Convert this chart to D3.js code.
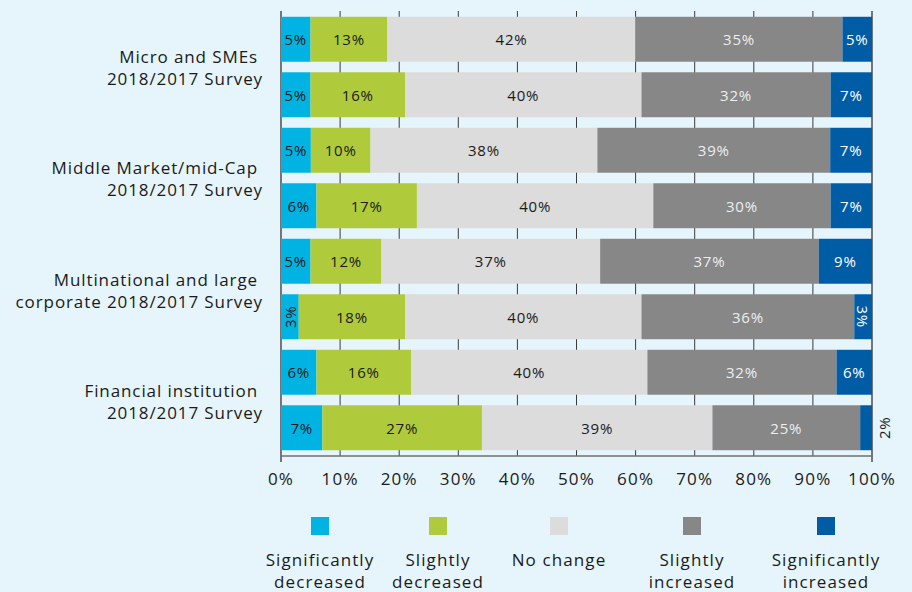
<!DOCTYPE html>
<html>
<head>
<meta charset="utf-8">
<script src="https://cdn.jsdelivr.net/npm/d3@7"></script>
<style>
  body { margin: 0; background: #e6f5fc; }
  svg { display: block; font-family: "Open Sans", sans-serif; }
</style>
</head>
<body>
<script>
const width = 912;
const height = 592;

const series = ["Significantly decreased", "Slightly decreased", "No change", "Slightly increased", "Significantly increased"];
const legendLines = [["Significantly", "decreased"], ["Slightly", "decreased"], ["No change"], ["Slightly", "increased"], ["Significantly", "increased"]];
const colors = ["#00b3e3", "#afca3b", "#dcdcdc", "#878787", "#005ca5"];
const labelColors = ["#1a1a1a", "#1a1a1a", "#1a1a1a", "#eeeeee", "#ffffff"];

const groups = [
    ["Micro and SMEs", "2018/2017 Survey"],
    ["Middle Market/mid-Cap", "2018/2017 Survey"],
    ["Multinational and large", "corporate 2018/2017 Survey"],
    ["Financial institution", "2018/2017 Survey"]
];
const rows = ["micro18", "micro17", "mid18", "mid17", "multi18", "multi17", "fi18", "fi17"];
const sigDecreased   = [5, 5, 5, 6, 5, 3, 6, 7];
const slDecreased    = [13, 16, 10, 17, 12, 18, 16, 27];
const noChange       = [42, 40, 38, 40, 37, 40, 40, 39];
const slIncreased    = [35, 32, 39, 30, 37, 36, 32, 25];
const sigIncreased   = [5, 7, 7, 7, 9, 3, 6, 2];
const xTicks = [0, 10, 20, 30, 40, 50, 60, 70, 80, 90, 100];

const table = rows.map((r, i) => ({
    row: r,
    [series[0]]: sigDecreased[i],
    [series[1]]: slDecreased[i],
    [series[2]]: noChange[i],
    [series[3]]: slIncreased[i],
    [series[4]]: sigIncreased[i]
}));

const x0 = 281, x1 = 872;
const x = d3.scaleLinear().domain([0, 100]).range([x0, x1]);
const y = d3.scaleBand().domain(rows).range([11, 456]).paddingInner(0.19).paddingOuter(0.104);
const color = d3.scaleOrdinal(series, colors);

const stacked = d3.stack().keys(series).offset(d3.stackOffsetExpand)(table);

const svg = d3.select("body").append("svg")
              .attr("width", width)
              .attr("height", height);

// gridlines behind bars
svg.append("g")
   .selectAll("line")
   .data(xTicks)
   .join("line")
   .attr("x1", d => x(d)).attr("x2", d => x(d))
   .attr("y1", 11)
   .attr("y2", d => (d === 0 || d === 100) ? 462 : 456)
   .attr("stroke", d => (d === 0 || d === 100) ? "#222" : "#3a3a3a")
   .attr("stroke-width", d => (d === 0 || d === 100) ? 1.2 : 1);

// bottom axis line
svg.append("line")
   .attr("x1", x0).attr("x2", x1)
   .attr("y1", 456).attr("y2", 456)
   .attr("stroke", "#6f6f6f").attr("stroke-width", 1.5);

const layers = svg.append("g")
    .selectAll("g")
    .data(stacked)
    .join("g")
    .attr("fill", d => color(d.key));

layers.selectAll("rect")
    .data(d => d)
    .join("rect")
    .attr("x", d => x(d[0] * 100))
    .attr("width", d => x(d[1] * 100) - x(d[0] * 100))
    .attr("y", d => y(d.data.row))
    .attr("height", y.bandwidth());

// segment labels
stacked.forEach((layer, si) => {
    const g = svg.append("g")
        .attr("font-size", 15)
        .attr("letter-spacing", 0.8)
        .attr("fill", labelColors[si])
        .attr("text-anchor", "middle");
    layer.forEach(d => {
        const v = d.data[layer.key];
        const cx = (x(d[0] * 100) + x(d[1] * 100)) / 2;
        const cy = y(d.data.row) + y.bandwidth() / 2;
        const t = g.append("text").text(v + "%").attr("dominant-baseline", "central");
        if (v <= 2) {
            t.attr("fill", "#1a1a1a")
             .attr("transform", `translate(${x1 + 12},${cy}) rotate(-90)`);
        } else if (v <= 3) {
            t.attr("transform", `translate(${cx},${cy}) rotate(${si === 0 ? -90 : 90})`);
        } else {
            t.attr("x", cx).attr("y", cy);
        }
    });
});

// x tick labels
svg.append("g")
   .attr("font-size", 17)
   .attr("letter-spacing", 1.2)
   .attr("fill", "#1a1a1a")
   .attr("text-anchor", "middle")
   .selectAll("text")
   .data(xTicks)
   .join("text")
   .attr("x", d => x(d))
   .attr("y", 478)
   .attr("dominant-baseline", "central")
   .text(d => d + "%");

// group labels
groups.forEach((lines, i) => {
    const top = y(rows[i * 2]);
    const bottom = y(rows[i * 2 + 1]) + y.bandwidth();
    const c = (top + bottom) / 2;
    const t = svg.append("text")
        .attr("font-size", 17)
        .attr("letter-spacing", 0.9)
        .attr("fill", "#1a1a1a")
        .attr("text-anchor", "end");
    t.append("tspan").attr("x", 258).attr("y", c - 10).attr("dominant-baseline", "central").text(lines[0]);
    t.append("tspan").attr("x", 263).attr("y", c + 12).attr("dominant-baseline", "central").text(lines[1]);
});

// legend
const legendX = [320, 438, 559, 692, 826];
const legend = svg.append("g")
    .selectAll("g")
    .data(series)
    .join("g")
    .attr("transform", (d, i) => `translate(${legendX[i]},0)`);

legend.append("rect")
    .attr("x", -9).attr("y", 517)
    .attr("width", 18).attr("height", 18)
    .attr("fill", d => color(d));

legend.append("text")
    .attr("font-size", 17)
    .attr("letter-spacing", 1.1)
    .attr("fill", "#1a1a1a")
    .attr("text-anchor", "middle")
    .selectAll("tspan")
    .data((d, i) => legendLines[i])
    .join("tspan")
    .attr("x", 0)
    .attr("y", (d, j) => 559 + j * 22)
    .attr("dominant-baseline", "central")
    .text(d => d);
</script>
</body>
</html>
